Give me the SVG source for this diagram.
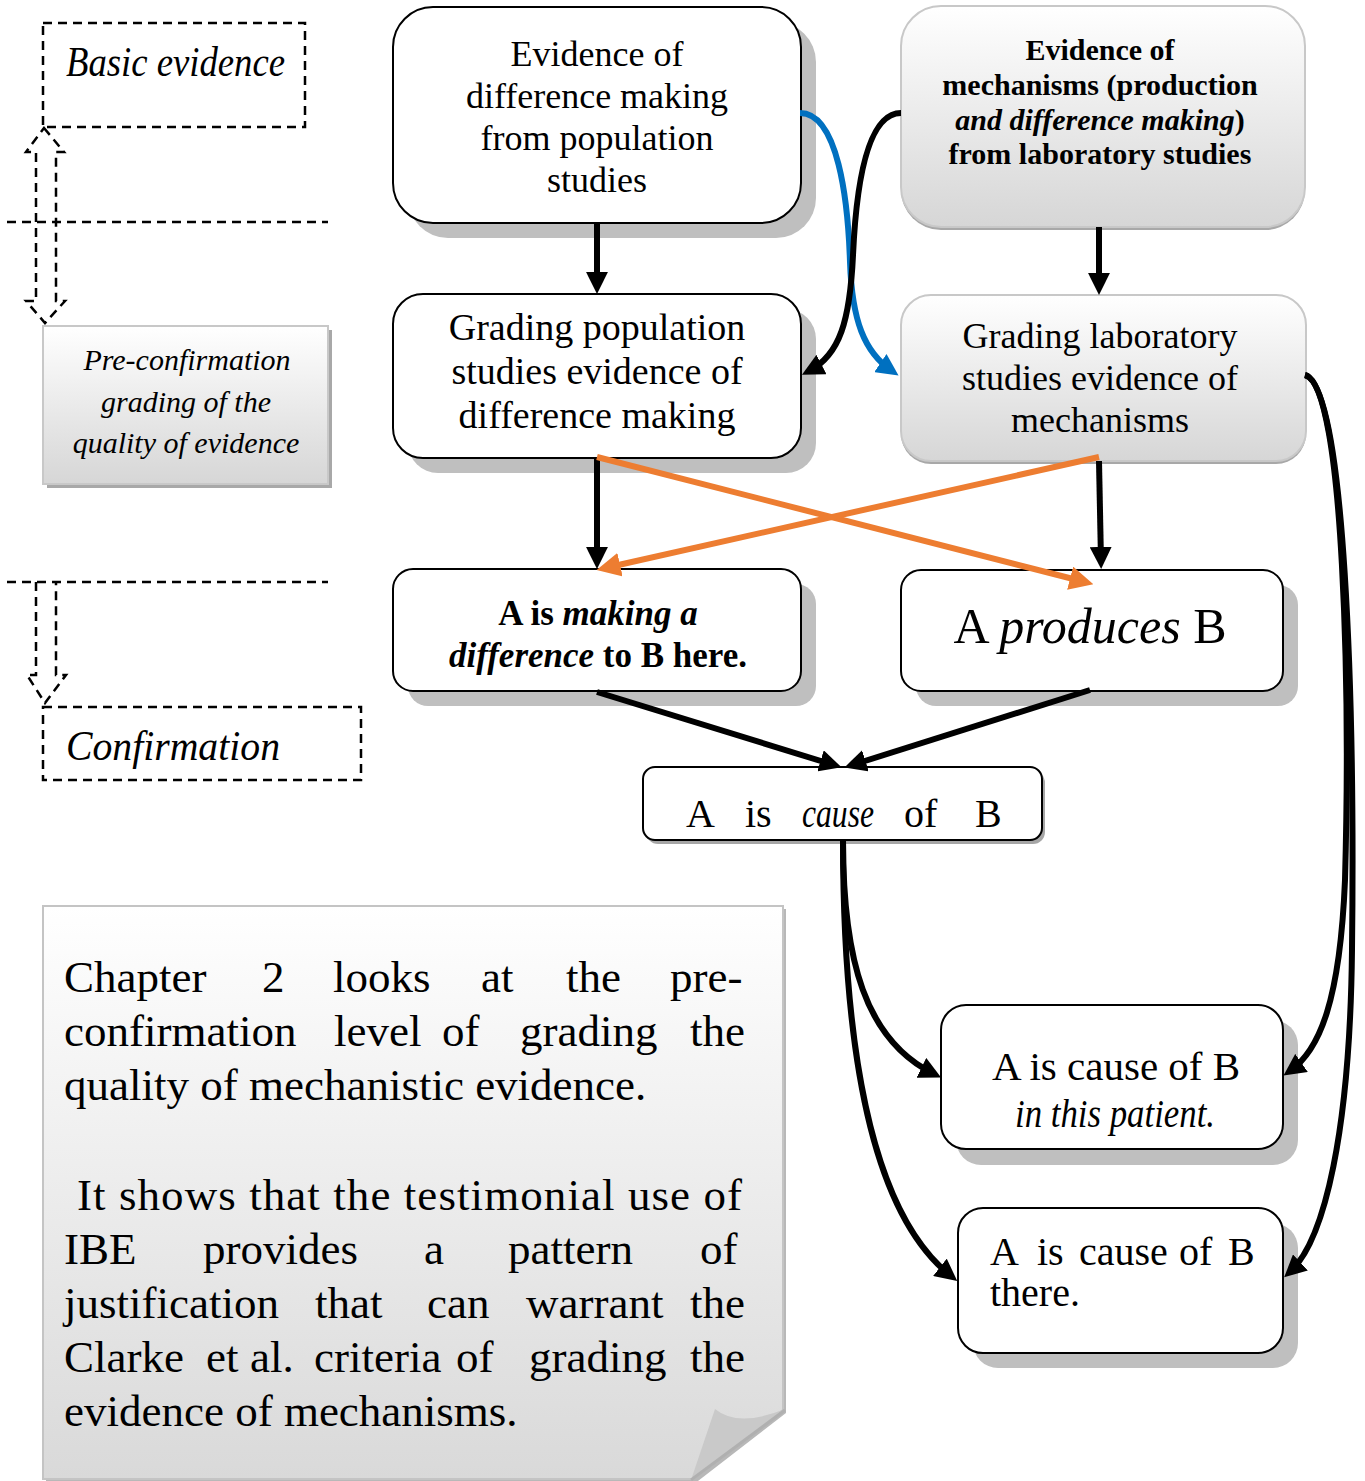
<svg xmlns="http://www.w3.org/2000/svg" width="1365" height="1481" viewBox="0 0 1365 1481">
  <defs>
    <linearGradient id="grayFill" x1="0" y1="0" x2="0" y2="1">
      <stop offset="0" stop-color="#ffffff"/>
      <stop offset="1" stop-color="#d6d6d6"/>
    </linearGradient>
    <linearGradient id="noteFill" x1="0" y1="0" x2="0" y2="1">
      <stop offset="0" stop-color="#ffffff"/>
      <stop offset="1" stop-color="#d9d9d9"/>
    </linearGradient>
    <marker id="headK" viewBox="0 0 10 10" refX="6.4" refY="5" markerWidth="22" markerHeight="22" markerUnits="userSpaceOnUse" orient="auto">
      <path d="M0,0 L10,5 L0,10 z" fill="#000"/>
    </marker>
    <marker id="headO" viewBox="0 0 10 10" refX="6.4" refY="5" markerWidth="24" markerHeight="24" markerUnits="userSpaceOnUse" orient="auto">
      <path d="M0,0 L10,5 L0,10 z" fill="#ed7d31"/>
    </marker>
    <marker id="headB" viewBox="0 0 10 10" refX="6.4" refY="5" markerWidth="22" markerHeight="22" markerUnits="userSpaceOnUse" orient="auto">
      <path d="M0,0 L10,5 L0,10 z" fill="#0070c0"/>
    </marker>
    <style>
      .box { fill: #ffffff; stroke: #000000; stroke-width: 2; }
      .shadow { fill: #bfbfbf; }
      .gbox { fill: url(#grayFill); stroke: #c8c8c8; stroke-width: 2; }
      .gshadow { fill: #a8a8a8; }
      .t { font-family: "Liberation Serif", "Times New Roman", serif; fill: #000000; }
      .mid { text-anchor: middle; }
      .it { font-style: italic; }
      .b { font-weight: bold; }
      .dash { fill: none; stroke: #000000; stroke-width: 2.5; stroke-dasharray: 9 6; }
      .conn { fill: none; stroke: #000000; stroke-width: 6; marker-end: url(#headK); }
      .orange { stroke: #ed7d31; marker-end: url(#headO); }
      .blue { stroke: #0070c0; marker-end: url(#headB); }
    </style>
  </defs>

  <rect width="1365" height="1481" fill="#ffffff"/>

  <!-- level markers on the left -->
  <g id="basic-evidence">
    <rect class="dash" x="43" y="23" width="262" height="104"/>
    <text class="t it" x="66" y="76" font-size="42" textLength="219" lengthAdjust="spacingAndGlyphs">Basic evidence</text>
  </g>
  <g id="level-divider-1">
    <line class="dash" x1="7" y1="222" x2="328" y2="222"/>
  </g>
  <g id="updown-arrow">
    <path class="dash" d="M44,128 L64,152 L56,152 L56,301 L65,301 L45,323 L26,301 L36,301 L36,152 L26,152 Z"/>
  </g>
  <g id="pre-confirmation">
    <rect class="gshadow" x="47" y="330" width="285" height="158"/>
    <rect class="gbox" x="43" y="326" width="285" height="158"/>
    <text class="t it mid" font-size="30"><tspan x="187" y="370">Pre-confirmation</tspan><tspan x="186" y="412">grading of  the</tspan><tspan x="186" y="453">quality of  evidence</tspan></text>
  </g>
  <g id="level-divider-2">
    <line class="dash" x1="7" y1="582" x2="328" y2="582"/>
  </g>
  <g id="down-arrow">
    <path class="dash" d="M36,582 L36,675 L27,675 L45,703 L66,675 L56,675 L56,582"/>
  </g>
  <g id="confirmation">
    <rect class="dash" x="43" y="707" width="318" height="73"/>
    <text class="t it" x="66" y="760" font-size="42" textLength="214" lengthAdjust="spacingAndGlyphs">Confirmation</text>
  </g>

  <!-- main flow -->
  <g id="pop-evidence">
    <rect class="shadow" x="408" y="22" width="408" height="216" rx="40"/>
    <rect class="box" x="393" y="7" width="408" height="216" rx="40"/>
    <text class="t mid" font-size="36"><tspan x="597" y="66">Evidence of</tspan><tspan x="597" y="108">difference making</tspan><tspan x="597" y="150">from population</tspan><tspan x="597" y="192">studies</tspan></text>
  </g>

  <g id="lab-evidence">
    <rect class="gshadow" x="901" y="9" width="404" height="221" rx="40"/>
    <rect class="gbox" x="901" y="6" width="404" height="221" rx="40"/>
    <text class="t b mid" font-size="30"><tspan x="1100" y="60">Evidence of</tspan><tspan x="1100" y="95">mechanisms (production</tspan><tspan x="1100" y="130"><tspan class="it">and difference making</tspan>)</tspan><tspan x="1100" y="164">from laboratory studies</tspan></text>
  </g>

  <g id="pop-grading">
    <rect class="shadow" x="408" y="309" width="408" height="164" rx="30"/>
    <rect class="box" x="393" y="294" width="408" height="164" rx="30"/>
    <text class="t mid" font-size="38"><tspan x="597" y="340">Grading population</tspan><tspan x="597" y="384">studies evidence of</tspan><tspan x="597" y="428">difference making</tspan></text>
  </g>

  <g id="lab-grading">
    <rect class="gshadow" x="901" y="298" width="405" height="166" rx="30"/>
    <rect class="gbox" x="901" y="295" width="405" height="166" rx="30"/>
    <text class="t mid" font-size="36"><tspan x="1100" y="348">Grading laboratory</tspan><tspan x="1100" y="390">studies evidence of</tspan><tspan x="1100" y="432">mechanisms</tspan></text>
  </g>

  <g id="difference-here">
    <rect class="shadow" x="408" y="584" width="408" height="122" rx="20"/>
    <rect class="box" x="393" y="569" width="408" height="122" rx="20"/>
    <text class="t b mid" font-size="35"><tspan x="598" y="625">A is <tspan class="it">making a</tspan></tspan><tspan x="598" y="667"><tspan class="it">difference</tspan> to B here.</tspan></text>
  </g>

  <g id="produces">
    <rect class="shadow" x="916" y="585" width="382" height="121" rx="20"/>
    <rect class="box" x="901" y="570" width="382" height="121" rx="20"/>
    <text class="t mid" x="1090" y="643" font-size="50">A <tspan class="it">produces</tspan> B</text>
  </g>

  <g id="cause">
    <rect x="646" y="771" width="399" height="73" rx="12" fill="#a6a6a6"/>
    <rect class="box" x="643" y="767" width="399" height="73" rx="12"/>
    <text class="t" font-size="40" y="827"><tspan x="686">A</tspan><tspan x="745">is</tspan><tspan x="802" class="it" textLength="72" lengthAdjust="spacingAndGlyphs">cause</tspan><tspan x="904">of</tspan><tspan x="975">B</tspan></text>
  </g>

  <g id="cause-patient">
    <rect class="shadow" x="956" y="1020" width="342" height="145" rx="25"/>
    <rect class="box" x="941" y="1005" width="342" height="144" rx="25"/>
    <text class="t mid" x="1116" y="1080" font-size="41">A is cause of B</text>
    <text class="t it mid" x="1115" y="1127" font-size="40" textLength="200" lengthAdjust="spacingAndGlyphs">in this patient.</text>
  </g>

  <g id="cause-there">
    <rect class="shadow" x="973" y="1223" width="325" height="145" rx="25"/>
    <rect class="box" x="958" y="1208" width="325" height="145" rx="25"/>
    <text class="t" font-size="40" y="1265"><tspan x="990">A</tspan><tspan x="1037">is</tspan><tspan x="1079">cause</tspan><tspan x="1179">of</tspan><tspan x="1228">B</tspan></text>
    <text class="t" x="990" y="1306" font-size="40">there.</text>
  </g>

  <!-- note with folded corner -->
  <g id="note">
    <path d="M46,909 L786,909 L786,1413 L698,1481 L46,1481 Z" fill="#b8b8b8"/>
    <path d="M43,906 L783,906 L783,1410 L693,1479 L43,1479 Z" fill="url(#noteFill)" stroke="#c4c4c4" stroke-width="2"/>
    <path d="M715,1409 Q738,1428 785,1409 L691,1480 Z" fill="#c9c9c9"/>
    <line x1="785" y1="1410" x2="691" y2="1480" stroke="#b0b0b0" stroke-width="3"/>
    <text class="t" font-size="45"><tspan y="992" x="64">Chapter</tspan><tspan y="992" x="262">2</tspan><tspan y="992" x="333">looks</tspan><tspan y="992" x="481">at</tspan><tspan y="992" x="566">the</tspan><tspan y="992" x="670">pre-</tspan><tspan y="1046" x="64">confirmation</tspan><tspan y="1046" x="334">level</tspan><tspan y="1046" x="442">of</tspan><tspan y="1046" x="520">grading</tspan><tspan y="1046" x="690">the</tspan><tspan y="1100" x="64">quality of  mechanistic evidence.</tspan><tspan y="1264" x="64">IBE</tspan><tspan y="1264" x="203">provides</tspan><tspan y="1264" x="424">a</tspan><tspan y="1264" x="508">pattern</tspan><tspan y="1264" x="700">of</tspan><tspan y="1318" x="64">justification</tspan><tspan y="1318" x="315">that</tspan><tspan y="1318" x="427">can</tspan><tspan y="1318" x="526">warrant</tspan><tspan y="1318" x="690">the</tspan><tspan y="1372" x="64">Clarke</tspan><tspan y="1372" x="206">et</tspan><tspan y="1372" x="250">al.</tspan><tspan y="1372" x="314">criteria</tspan><tspan y="1372" x="456">of</tspan><tspan y="1372" x="529">grading</tspan><tspan y="1372" x="690">the</tspan><tspan y="1426" x="64">evidence of  mechanisms.</tspan></text>
    <text class="t" font-size="45" x="77" y="1210" textLength="665" lengthAdjust="spacing">It shows that the testimonial use of</text>
  </g>

  <!-- connectors -->
  <g id="connectors">
    <path class="conn" d="M597,223 L597,286"/>
    <path class="conn" d="M1099,227 L1099,287"/>
    <path class="conn blue" d="M800,113 C838,113 848,200 850,262 C852,320 864,352 892,371"/>
    <path class="conn" d="M901,113 C866,113 856,190 853,255 C850,320 840,355 809,371"/>
    <path class="conn" d="M597,458 L597,561"/>
    <path class="conn" d="M1099,461 L1101,561"/>
    <path class="conn orange" d="M597,457 L1085,582"/>
    <path class="conn orange" d="M1099,457 L605,568"/>
    <path class="conn" d="M597,692 L834,765"/>
    <path class="conn" d="M1090,690 L852,765"/>
    <path class="conn" d="M843,840 C843,960 865,1040 934,1074"/>
    <path class="conn" d="M843,840 C843,1080 880,1220 951,1276"/>
    <path class="conn" d="M1305,375 C1345,385 1350,700 1345,880 C1340,1000 1320,1050 1290,1071"/>
    <path class="conn" d="M1305,375 C1345,385 1355,700 1352,950 C1350,1130 1325,1240 1290,1272"/>
  </g>
</svg>
